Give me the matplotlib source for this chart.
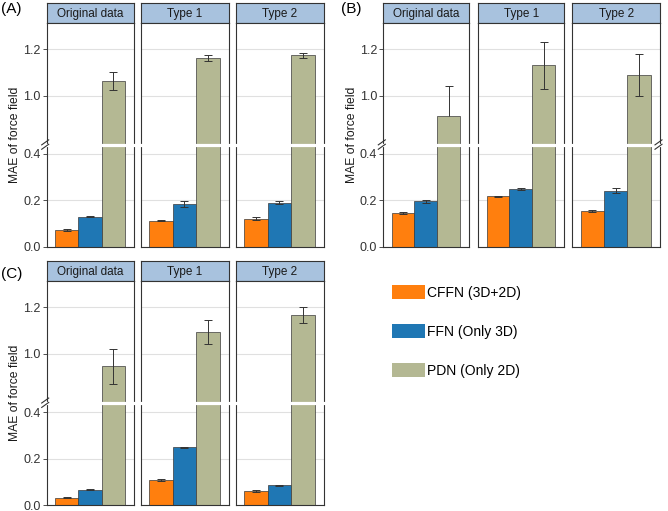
import numpy as np
import matplotlib
matplotlib.use("Agg")
import matplotlib.pyplot as plt
from matplotlib.patches import Patch
from matplotlib.ticker import FormatStrFormatter

plt.rcParams['font.family'] = ['Liberation Sans', 'DejaVu Sans']

facets = ["Original data", "Type 1", "Type 2"]
models = ["CFFN (3D+2D)", "FFN (Only 3D)", "PDN (Only 2D)"]
colors = ["#FF7F0E", "#1F77B4", "#B4B893"]

# rows = facets, columns = models
mae_a = [[0.072, 0.130, 1.064], [0.111, 0.182, 1.161], [0.120, 0.190, 1.174]]
err_a = [[0.003, 0.004, 0.038], [0.002, 0.013, 0.013], [0.006, 0.006, 0.012]]
mae_b = [[0.146, 0.196, 0.911], [0.217, 0.249, 1.131], [0.153, 0.242, 1.089]]
err_b = [[0.004, 0.007, 0.130], [0.003, 0.006, 0.102], [0.004, 0.012, 0.091]]
mae_c = [[0.032, 0.066, 0.946], [0.108, 0.248, 1.094], [0.061, 0.084, 1.167]]
err_c = [[0.002, 0.002, 0.077], [0.004, 0.002, 0.050], [0.003, 0.003, 0.036]]

# broken y axis
lo, hi = 0.44, 0.79
ymax = 1.315
yticks = [0.0, 0.2, 0.4, 1.0, 1.2]


def fwd(y):
    y = np.asarray(y, dtype=float)
    return np.where(y < lo, y, np.where(y > hi, y - (hi - lo), lo))


def inv(u):
    u = np.asarray(u, dtype=float)
    return np.where(u < lo, u, u + (hi - lo))


W, H = 668, 511
fig = plt.figure(figsize=(W / 100, H / 100), dpi=100)


def rect(x0, y0, x1, y1):
    return [x0 / W, 1 - y1 / H, (x1 - x0) / W, (y1 - y0) / H]


border = "#333333"
gap_frac = float(fwd(lo) / fwd(ymax))


def break_marks(ax, side):
    bb = ax.get_position()
    wpx, hpx = bb.width * W, bb.height * H
    xc = (0 if side == 0 else 1) - 1.5 / wpx
    for off in (-2.2, 2.2):
        ax.plot([xc - 3.5 / wpx, xc + 3.5 / wpx],
                [gap_frac + (off - 2.5) / hpx, gap_frac + (off + 2.5) / hpx],
                transform=ax.transAxes, color=border, lw=0.8,
                clip_on=False, zorder=12)


def panel(xs, ytop, ybot, mae, err, right_marks=False):
    strip_h = 19.4
    x = np.arange(len(models))
    for i, (x0, x1) in enumerate(xs):
        st = fig.add_axes(rect(x0, ytop - strip_h, x1, ytop))
        st.set_facecolor("#A8C2DE")
        st.set_xticks([])
        st.set_yticks([])
        for s in st.spines.values():
            s.set_color(border)
            s.set_linewidth(0.8)
        st.text(0.5, 0.45, facets[i], ha="center", va="center",
                fontsize=8.5, color="#1A1A1A", transform=st.transAxes)

        ax = fig.add_axes(rect(x0, ytop, x1, ybot))
        ax.set_yscale("function", functions=(fwd, inv))
        ax.set_ylim(0, ymax)
        ax.set_xlim(-0.86, 2.89)
        ax.set_yticks(yticks)
        ax.yaxis.set_major_formatter(FormatStrFormatter("%.1f"))
        ax.yaxis.grid(True, color="#E0E0E0", lw=0.8)
        ax.set_axisbelow(True)
        ax.set_xticks([])
        for s in ax.spines.values():
            s.set_color(border)
            s.set_linewidth(0.8)
        ax.tick_params(axis="y", length=3, width=0.6, color=border,
                       labelsize=9, labelcolor="#333333", pad=1.5)
        if i > 0:
            ax.tick_params(axis="y", length=0, labelleft=False)
        else:
            ax.set_ylabel("MAE of force field", fontsize=8.7,
                          color="#1A1A1A", labelpad=1.5)

        ax.bar(x, mae[i], width=1.0, color=colors, edgecolor="#3A3A3A",
               linewidth=0.5, zorder=2)
        for j in range(len(models)):
            low_end = mae[i][j] - err[i][j]
            z = 1.5 if (low_end < hi and mae[i][j] > hi) else 3
            ax.errorbar(x[j], mae[i][j], yerr=err[i][j], fmt="none",
                        ecolor="#333333", elinewidth=0.7, capsize=2.6,
                        capthick=0.7, zorder=z)

        ax.plot([-0.03, 1.03], [lo, lo], transform=ax.get_yaxis_transform(),
                color="white", lw=2.3, clip_on=False, zorder=11,
                solid_capstyle="butt")
        if i == 0:
            break_marks(ax, 0)
        if right_marks and i == len(xs) - 1:
            break_marks(ax, 1)


xs_left = [(46.7, 134.0), (140.7, 229.0), (235.7, 324.0)]
xs_right = [(383.3, 469.3), (478.3, 564.3), (572.3, 660.0)]

panel(xs_left, 22.7, 246.7, mae_a, err_a)
panel(xs_right, 22.7, 246.7, mae_b, err_b, right_marks=True)
panel(xs_left, 280.7, 505.0, mae_c, err_c)

fig.text(1 / W, 1 - 2 / H, "(A)", fontsize=11, va="top", ha="left")
fig.text(341 / W, 1 - 2 / H, "(B)", fontsize=11, va="top", ha="left")
fig.text(1 / W, 1 - 267 / H, "(C)", fontsize=11, va="top", ha="left")

handles = [Patch(facecolor=c, edgecolor="none") for c in colors]
fig.legend(handles, models, loc="upper left",
           bbox_to_anchor=(392 / W, 1 - 285 / H), frameon=False,
           fontsize=10, handlelength=2.4, handleheight=1.2,
           handletextpad=0.1, labelspacing=1.75, borderpad=0,
           borderaxespad=0)

fig.savefig("out.png", dpi=100)
